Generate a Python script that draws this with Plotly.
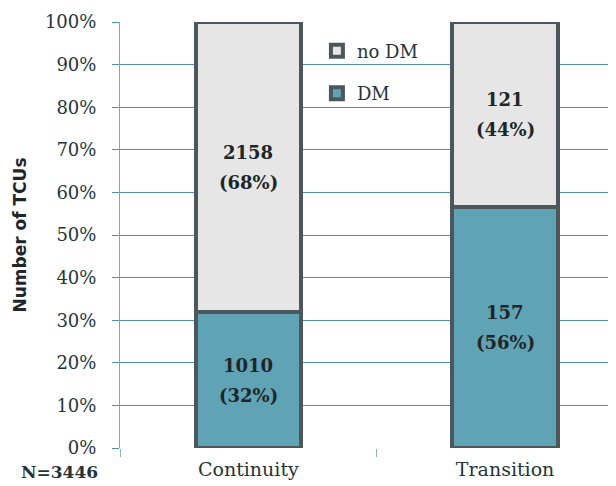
import plotly.graph_objects as go

categories = ["Continuity", "Transition"]
dm_counts = [1010, 157]
nodm_counts = [2158, 121]
total_label = "N=3446"

totals = [a + b for a, b in zip(dm_counts, nodm_counts)]
dm_pct = [100 * a / t for a, t in zip(dm_counts, totals)]
nodm_pct = [100 * b / t for b, t in zip(nodm_counts, totals)]

serif = "DejaVu Serif"
dark = "#26343A"
border = "#4B575B"
bar_w = 0.41

fig = go.Figure()
fig.add_trace(go.Bar(
    x=categories, y=dm_pct, name="DM", legendgroup="dm", legendrank=2,
    marker=dict(color="#60A3B5", line=dict(color=border, width=4)),
    width=bar_w, hoverinfo="skip",
))
fig.add_trace(go.Bar(
    x=categories, y=nodm_pct, name="no DM", legendgroup="nodm", legendrank=1,
    marker=dict(color="#E6E6E6", line=dict(color=border, width=4)),
    width=bar_w, hoverinfo="skip",
))

annotations = []
label_font = dict(family=serif, size=18, color="#1E2629")
for cat, dc, dp, nc, npct in zip(categories, dm_counts, dm_pct, nodm_counts, nodm_pct):
    for count, pct, mid in ((dc, dp, dp / 2), (nc, npct, dp + npct / 2)):
        annotations.append(dict(x=cat, y=mid, text=f"<b>{count}</b>", yshift=15,
                                showarrow=False, font=label_font))
        annotations.append(dict(x=cat, y=mid, text=f"<b>({round(pct)}%)</b>", yshift=-15,
                                showarrow=False, font=label_font))
annotations.append(dict(
    text=f"<b>{total_label}</b>", xref="paper", yref="paper",
    x=-0.121, y=-0.056, xanchor="center", yanchor="middle",
    showarrow=False, font=dict(family=serif, size=17, color=dark),
))

# page body has an 8px margin, so the figure is 8px smaller and margins compensate
fig.update_layout(
    barmode="stack",
    width=608, height=478,
    margin=dict(l=112, r=0, t=14, b=38, autoexpand=False),
    paper_bgcolor="white", plot_bgcolor="white",
    font=dict(family=serif, color=dark),
    showlegend=True,
    legend=dict(
        x=0.397, y=0.975, xanchor="left", yanchor="top",
        bgcolor="rgba(0,0,0,0)",
        font=dict(family=serif, size=18, color=dark),
        traceorder="grouped", tracegroupgap=16,
        itemwidth=30,
    ),
    annotations=annotations,
)
fig.update_yaxes(
    range=[0, 100], tick0=0, dtick=10, ticksuffix="%",
    showgrid=True, gridcolor="#4E93A5", gridwidth=1,
    showline=True, linecolor="#7AA8B5", linewidth=1,
    ticks="outside", ticklen=7, tickcolor="#4E93A5",
    tickfont=dict(family=serif, size=18, color=dark),
    ticklabelstandoff=12,
    automargin=False,
    title=dict(text="<b>Number of TCUs</b>",
               font=dict(family="DejaVu Sans", size=17, color="#1E2629"), standoff=13),
    zeroline=False,
)
fig.update_xaxes(
    range=[-0.5, 1.432],
    showline=False, showgrid=False, automargin=False,
    ticks="outside", tickson="boundaries", ticklen=8, tickcolor="#8FB3BE",
    tickfont=dict(family=serif, size=19, color=dark),
    ticklabelstandoff=8,
)

fig.write_html("out.html")
